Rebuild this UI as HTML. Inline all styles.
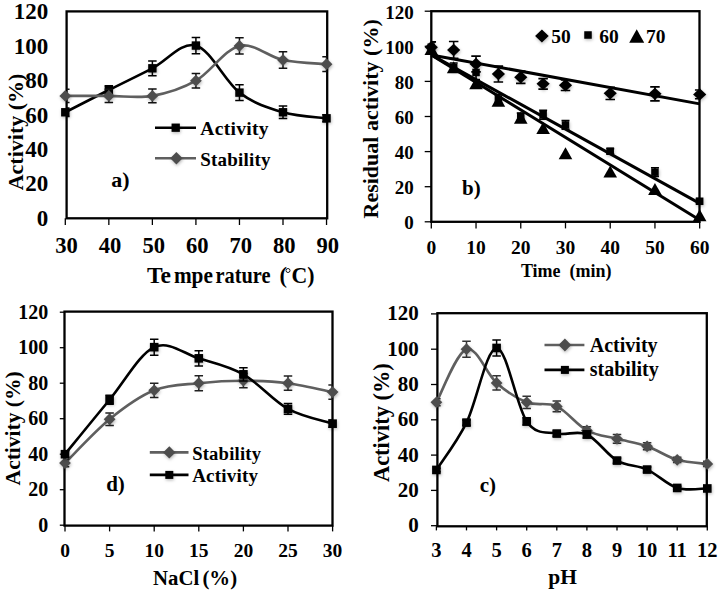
<!DOCTYPE html>
<html><head><meta charset="utf-8"><style>
html,body{margin:0;padding:0;background:#fff;width:722px;height:592px;overflow:hidden}
svg{display:block}
</style></head><body>
<svg width="722" height="592" viewBox="0 0 722 592" font-family='"Liberation Serif", serif' font-weight="bold" fill="#000">
<rect width="722" height="592" fill="#fff"/>
<defs><filter id="sh" x="-60%" y="-60%" width="220%" height="220%"><feDropShadow dx="0.6" dy="1.4" stdDeviation="1.4" flood-color="#000" flood-opacity="0.28"/></filter><clipPath id="ca"><rect x="66.6" y="0" width="260.6" height="296"/></clipPath><clipPath id="cb"><rect x="431.3" y="0" width="268.2" height="296"/></clipPath><clipPath id="cd"><rect x="64.5" y="296" width="268" height="296"/></clipPath><clipPath id="cc"><rect x="437.4" y="296" width="269.4" height="296"/></clipPath></defs>
<rect x="66.60" y="11.40" width="260.60" height="206.90" fill="none" stroke="#000" stroke-width="2.30"/>
<path d="M65.30,218.3 V225" stroke="#000" stroke-width="1.3"/>
<path d="M108.84,218.3 V225" stroke="#000" stroke-width="1.3"/>
<path d="M152.38,218.3 V225" stroke="#000" stroke-width="1.3"/>
<path d="M195.92,218.3 V225" stroke="#000" stroke-width="1.3"/>
<path d="M239.46,218.3 V225" stroke="#000" stroke-width="1.3"/>
<path d="M283.00,218.3 V225" stroke="#000" stroke-width="1.3"/>
<path d="M326.54,218.3 V225" stroke="#000" stroke-width="1.3"/>
<text x="48.3" y="225.9" font-size="23.0" text-anchor="end" >0</text>
<text x="48.3" y="191.4" font-size="23.0" text-anchor="end" >20</text>
<text x="48.3" y="156.9" font-size="23.0" text-anchor="end" >40</text>
<text x="48.3" y="122.5" font-size="23.0" text-anchor="end" >60</text>
<text x="48.3" y="88.0" font-size="23.0" text-anchor="end" >80</text>
<text x="48.3" y="53.5" font-size="23.0" text-anchor="end" >100</text>
<text x="48.3" y="19.0" font-size="23.0" text-anchor="end" >120</text>
<text x="66.6" y="253.2" font-size="22.6" text-anchor="middle" >30</text>
<text x="110.1" y="253.2" font-size="22.6" text-anchor="middle" >40</text>
<text x="153.7" y="253.2" font-size="22.6" text-anchor="middle" >50</text>
<text x="197.2" y="253.2" font-size="22.6" text-anchor="middle" >60</text>
<text x="240.8" y="253.2" font-size="22.6" text-anchor="middle" >70</text>
<text x="284.3" y="253.2" font-size="22.6" text-anchor="middle" >80</text>
<text x="327.8" y="253.2" font-size="22.6" text-anchor="middle" >90</text>
<text y="282.7" font-size="22.5"><tspan x="146.9" textLength="24" lengthAdjust="spacingAndGlyphs">Te</tspan><tspan x="173.9" textLength="39" lengthAdjust="spacingAndGlyphs">mpe</tspan><tspan x="215.5" textLength="55" lengthAdjust="spacingAndGlyphs">rature</tspan><tspan x="279.6">(</tspan><tspan x="291.5" textLength="23" lengthAdjust="spacingAndGlyphs">C)</tspan></text>
<circle cx="288" cy="270.5" r="2" fill="none" stroke="#000" stroke-width="0.9"/>
<text transform="translate(22.5,190.3) rotate(-90)" font-size="22">Activity (%)</text>
<path d="M65.30,112.27 C72.56,108.57 94.33,97.36 108.84,90.03 C123.35,82.71 137.87,75.73 152.38,68.31 C166.89,60.90 181.41,41.50 195.92,45.56 C210.43,49.61 224.95,81.50 239.46,92.62 C253.97,103.74 268.49,107.99 283.00,112.27 C297.51,116.56 319.28,117.30 326.54,118.31" stroke="#000" stroke-width="2.6" fill="none"/>
<path clip-path="url(#ca)" d="M65.30,107.96 V116.58 M61.05,107.96 H69.55 M61.05,116.58 H69.55" stroke="#000" stroke-width="1.50" fill="none"/>
<rect filter="url(#sh)" x="61.10" y="108.07" width="8.40" height="8.40" fill="#000"/>
<path clip-path="url(#ca)" d="M108.84,85.72 V94.34 M104.59,85.72 H113.09 M104.59,94.34 H113.09" stroke="#000" stroke-width="1.50" fill="none"/>
<rect filter="url(#sh)" x="104.64" y="85.83" width="8.40" height="8.40" fill="#000"/>
<path clip-path="url(#ca)" d="M152.38,60.90 V75.73 M148.13,60.90 H156.63 M148.13,75.73 H156.63" stroke="#000" stroke-width="1.50" fill="none"/>
<rect filter="url(#sh)" x="148.18" y="64.11" width="8.40" height="8.40" fill="#000"/>
<path clip-path="url(#ca)" d="M195.92,37.45 V53.66 M191.67,37.45 H200.17 M191.67,53.66 H200.17" stroke="#000" stroke-width="1.50" fill="none"/>
<rect filter="url(#sh)" x="191.72" y="41.36" width="8.40" height="8.40" fill="#000"/>
<path clip-path="url(#ca)" d="M239.46,84.69 V100.55 M235.21,84.69 H243.71 M235.21,100.55 H243.71" stroke="#000" stroke-width="1.50" fill="none"/>
<rect filter="url(#sh)" x="235.26" y="88.42" width="8.40" height="8.40" fill="#000"/>
<path clip-path="url(#ca)" d="M283.00,106.07 V118.48 M278.75,106.07 H287.25 M278.75,118.48 H287.25" stroke="#000" stroke-width="1.50" fill="none"/>
<rect filter="url(#sh)" x="278.80" y="108.07" width="8.40" height="8.40" fill="#000"/>
<path clip-path="url(#ca)" d="M326.54,114.86 V121.76 M322.29,114.86 H330.79 M322.29,121.76 H330.79" stroke="#000" stroke-width="1.50" fill="none"/>
<rect filter="url(#sh)" x="322.34" y="114.11" width="8.40" height="8.40" fill="#000"/>
<path d="M65.30,95.90 C72.56,95.90 94.33,95.90 108.84,95.90 C123.35,95.90 137.87,98.42 152.38,95.90 C166.89,93.37 181.41,89.06 195.92,80.72 C210.43,72.39 224.95,49.35 239.46,45.90 C253.97,42.45 268.49,56.99 283.00,60.04 C297.51,63.08 319.28,63.48 326.54,64.17" stroke="#5f5f5f" stroke-width="2.6" fill="none"/>
<path clip-path="url(#ca)" d="M65.30,89.17 V102.62 M61.05,89.17 H69.55 M61.05,102.62 H69.55" stroke="#111" stroke-width="1.50" fill="none"/>
<path filter="url(#sh)" d="M65.30,90.00 L71.20,95.90 L65.30,101.80 L59.40,95.90 Z" fill="#4e4e4e"/>
<path clip-path="url(#ca)" d="M108.84,89.17 V102.62 M104.59,89.17 H113.09 M104.59,102.62 H113.09" stroke="#111" stroke-width="1.50" fill="none"/>
<path filter="url(#sh)" d="M108.84,90.00 L114.74,95.90 L108.84,101.80 L102.94,95.90 Z" fill="#4e4e4e"/>
<path clip-path="url(#ca)" d="M152.38,89.00 V102.79 M148.13,89.00 H156.63 M148.13,102.79 H156.63" stroke="#111" stroke-width="1.50" fill="none"/>
<path filter="url(#sh)" d="M152.38,90.00 L158.28,95.90 L152.38,101.80 L146.48,95.90 Z" fill="#4e4e4e"/>
<path clip-path="url(#ca)" d="M195.92,73.48 V87.97 M191.67,73.48 H200.17 M191.67,87.97 H200.17" stroke="#111" stroke-width="1.50" fill="none"/>
<path filter="url(#sh)" d="M195.92,74.82 L201.82,80.72 L195.92,86.62 L190.02,80.72 Z" fill="#4e4e4e"/>
<path clip-path="url(#ca)" d="M239.46,37.80 V54.00 M235.21,37.80 H243.71 M235.21,54.00 H243.71" stroke="#111" stroke-width="1.50" fill="none"/>
<path filter="url(#sh)" d="M239.46,40.00 L245.36,45.90 L239.46,51.80 L233.56,45.90 Z" fill="#4e4e4e"/>
<path clip-path="url(#ca)" d="M283.00,51.76 V68.31 M278.75,51.76 H287.25 M278.75,68.31 H287.25" stroke="#111" stroke-width="1.50" fill="none"/>
<path filter="url(#sh)" d="M283.00,54.14 L288.90,60.04 L283.00,65.94 L277.10,60.04 Z" fill="#4e4e4e"/>
<path clip-path="url(#ca)" d="M326.54,56.76 V71.59 M322.29,56.76 H330.79 M322.29,71.59 H330.79" stroke="#111" stroke-width="1.50" fill="none"/>
<path filter="url(#sh)" d="M326.54,58.27 L332.44,64.17 L326.54,70.07 L320.64,64.17 Z" fill="#4e4e4e"/>
<path d="M155,127.7 H196" stroke="#000" stroke-width="2.6"/>
<rect filter="url(#sh)" x="171.55" y="123.55" width="8.30" height="8.30" fill="#000"/>
<text x="200.3" y="135.3" font-size="19.5" text-anchor="start" letter-spacing="0.3">Activity</text>
<path d="M155,158.2 H196" stroke="#5f5f5f" stroke-width="2.6"/>
<path filter="url(#sh)" d="M176.40,152.00 L182.60,158.20 L176.40,164.40 L170.20,158.20 Z" fill="#4e4e4e"/>
<text x="200.3" y="166.1" font-size="19.0" text-anchor="start" letter-spacing="0.2">Stability</text>
<text x="111.2" y="186.6" font-size="22.0" text-anchor="start" >a)</text>
<rect x="431.30" y="11.20" width="268.20" height="210.60" fill="none" stroke="#000" stroke-width="2.30"/>
<path d="M424.7,221.80 H431.3" stroke="#000" stroke-width="1.3"/>
<text x="413.7" y="229.3" font-size="19.0" text-anchor="end" >0</text>
<path d="M424.7,186.70 H431.3" stroke="#000" stroke-width="1.3"/>
<text x="413.7" y="194.2" font-size="19.0" text-anchor="end" >20</text>
<path d="M424.7,151.60 H431.3" stroke="#000" stroke-width="1.3"/>
<text x="413.7" y="159.1" font-size="19.0" text-anchor="end" >40</text>
<path d="M424.7,116.50 H431.3" stroke="#000" stroke-width="1.3"/>
<text x="413.7" y="124.0" font-size="19.0" text-anchor="end" >60</text>
<path d="M424.7,81.40 H431.3" stroke="#000" stroke-width="1.3"/>
<text x="413.7" y="88.9" font-size="19.0" text-anchor="end" >80</text>
<path d="M424.7,46.30 H431.3" stroke="#000" stroke-width="1.3"/>
<text x="413.7" y="53.8" font-size="19.0" text-anchor="end" >100</text>
<path d="M424.7,11.20 H431.3" stroke="#000" stroke-width="1.3"/>
<text x="413.7" y="18.7" font-size="19.0" text-anchor="end" >120</text>
<path d="M431.30,221.8 V228.4" stroke="#000" stroke-width="1.3"/>
<text x="431.3" y="253.9" font-size="19.5" text-anchor="middle" >0</text>
<path d="M476.03,221.8 V228.4" stroke="#000" stroke-width="1.3"/>
<text x="476.0" y="253.9" font-size="19.5" text-anchor="middle" >10</text>
<path d="M520.76,221.8 V228.4" stroke="#000" stroke-width="1.3"/>
<text x="520.8" y="253.9" font-size="19.5" text-anchor="middle" >20</text>
<path d="M565.49,221.8 V228.4" stroke="#000" stroke-width="1.3"/>
<text x="565.5" y="253.9" font-size="19.5" text-anchor="middle" >30</text>
<path d="M610.22,221.8 V228.4" stroke="#000" stroke-width="1.3"/>
<text x="610.2" y="253.9" font-size="19.5" text-anchor="middle" >40</text>
<path d="M654.95,221.8 V228.4" stroke="#000" stroke-width="1.3"/>
<text x="655.0" y="253.9" font-size="19.5" text-anchor="middle" >50</text>
<path d="M699.68,221.8 V228.4" stroke="#000" stroke-width="1.3"/>
<text x="699.7" y="253.9" font-size="19.5" text-anchor="middle" >60</text>
<text x="520.9" y="277.3" font-size="18.0" text-anchor="start" >Time&#160;&#160;(min)</text>
<text transform="translate(377.8,218.5) rotate(-90)" font-size="22">Residual activity (%)</text>
<path d="M431.30,54.90 L699.68,103.86" stroke="#000" stroke-width="3"/>
<path d="M431.30,54.90 L699.68,203.37" stroke="#000" stroke-width="3"/>
<path d="M431.30,54.90 L699.68,220.05" stroke="#000" stroke-width="3"/>
<path clip-path="url(#cb)" d="M431.30,41.91 V52.44 M426.55,41.91 H436.05 M426.55,52.44 H436.05" stroke="#000" stroke-width="1.60" fill="none"/>
<path filter="url(#sh)" d="M431.30,40.98 L437.90,47.18 L431.30,53.38 L424.70,47.18 Z" fill="#000"/>
<path clip-path="url(#cb)" d="M453.67,41.56 V58.41 M448.92,41.56 H458.42 M448.92,58.41 H458.42" stroke="#000" stroke-width="1.60" fill="none"/>
<path filter="url(#sh)" d="M453.67,43.79 L460.27,49.99 L453.67,56.19 L447.06,49.99 Z" fill="#000"/>
<path clip-path="url(#cb)" d="M476.03,56.13 V71.92 M471.28,56.13 H480.78 M471.28,71.92 H480.78" stroke="#000" stroke-width="1.60" fill="none"/>
<path filter="url(#sh)" d="M476.03,57.83 L482.63,64.03 L476.03,70.23 L469.43,64.03 Z" fill="#000"/>
<path clip-path="url(#cb)" d="M498.39,66.13 V81.93 M493.64,66.13 H503.14 M493.64,81.93 H503.14" stroke="#000" stroke-width="1.60" fill="none"/>
<path filter="url(#sh)" d="M498.39,67.83 L505.00,74.03 L498.39,80.23 L491.79,74.03 Z" fill="#000"/>
<path clip-path="url(#cb)" d="M520.76,71.05 V83.33 M516.01,71.05 H525.51 M516.01,83.33 H525.51" stroke="#000" stroke-width="1.60" fill="none"/>
<path filter="url(#sh)" d="M520.76,70.99 L527.36,77.19 L520.76,83.39 L514.16,77.19 Z" fill="#000"/>
<path clip-path="url(#cb)" d="M543.12,78.59 V89.12 M538.38,78.59 H547.88 M538.38,89.12 H547.88" stroke="#000" stroke-width="1.60" fill="none"/>
<path filter="url(#sh)" d="M543.12,77.66 L549.73,83.86 L543.12,90.06 L536.52,83.86 Z" fill="#000"/>
<path clip-path="url(#cb)" d="M565.49,80.00 V90.53 M560.74,80.00 H570.24 M560.74,90.53 H570.24" stroke="#000" stroke-width="1.60" fill="none"/>
<path filter="url(#sh)" d="M565.49,79.06 L572.09,85.26 L565.49,91.46 L558.89,85.26 Z" fill="#000"/>
<path clip-path="url(#cb)" d="M610.22,87.19 V99.48 M605.47,87.19 H614.97 M605.47,99.48 H614.97" stroke="#000" stroke-width="1.60" fill="none"/>
<path filter="url(#sh)" d="M610.22,87.13 L616.82,93.33 L610.22,99.53 L603.62,93.33 Z" fill="#000"/>
<path clip-path="url(#cb)" d="M654.95,86.84 V100.88 M650.20,86.84 H659.70 M650.20,100.88 H659.70" stroke="#000" stroke-width="1.60" fill="none"/>
<path filter="url(#sh)" d="M654.95,87.66 L661.55,93.86 L654.95,100.06 L648.35,93.86 Z" fill="#000"/>
<path clip-path="url(#cb)" d="M699.68,90.00 V98.77 M694.93,90.00 H704.43 M694.93,98.77 H704.43" stroke="#000" stroke-width="1.60" fill="none"/>
<path filter="url(#sh)" d="M699.68,88.19 L706.28,94.39 L699.68,100.59 L693.08,94.39 Z" fill="#000"/>
<path clip-path="url(#cb)" d="M431.30,41.91 V52.44 M427.30,41.91 H435.30 M427.30,52.44 H435.30" stroke="#000" stroke-width="1.60" fill="none"/>
<rect filter="url(#sh)" x="427.55" y="43.43" width="7.50" height="7.50" fill="#000"/>
<path clip-path="url(#cb)" d="M453.67,62.97 V71.75 M449.67,62.97 H457.67 M449.67,71.75 H457.67" stroke="#000" stroke-width="1.60" fill="none"/>
<rect filter="url(#sh)" x="449.92" y="63.61" width="7.50" height="7.50" fill="#000"/>
<path clip-path="url(#cb)" d="M476.03,65.43 V79.47 M472.03,65.43 H480.03 M472.03,79.47 H480.03" stroke="#000" stroke-width="1.60" fill="none"/>
<rect filter="url(#sh)" x="472.28" y="68.70" width="7.50" height="7.50" fill="#000"/>
<path clip-path="url(#cb)" d="M498.39,94.56 V103.34 M494.39,94.56 H502.39 M494.39,103.34 H502.39" stroke="#000" stroke-width="1.60" fill="none"/>
<rect filter="url(#sh)" x="494.64" y="95.20" width="7.50" height="7.50" fill="#000"/>
<path clip-path="url(#cb)" d="M520.76,112.99 V120.01 M516.76,112.99 H524.76 M516.76,120.01 H524.76" stroke="#000" stroke-width="1.60" fill="none"/>
<rect filter="url(#sh)" x="517.01" y="112.75" width="7.50" height="7.50" fill="#000"/>
<path clip-path="url(#cb)" d="M543.12,110.36 V119.13 M539.12,110.36 H547.12 M539.12,119.13 H547.12" stroke="#000" stroke-width="1.60" fill="none"/>
<rect filter="url(#sh)" x="539.38" y="111.00" width="7.50" height="7.50" fill="#000"/>
<path clip-path="url(#cb)" d="M565.49,120.54 V129.31 M561.49,120.54 H569.49 M561.49,129.31 H569.49" stroke="#000" stroke-width="1.60" fill="none"/>
<rect filter="url(#sh)" x="561.74" y="121.17" width="7.50" height="7.50" fill="#000"/>
<path clip-path="url(#cb)" d="M610.22,148.62 V153.88 M606.22,148.62 H614.22 M606.22,153.88 H614.22" stroke="#000" stroke-width="1.60" fill="none"/>
<rect filter="url(#sh)" x="606.47" y="147.50" width="7.50" height="7.50" fill="#000"/>
<path clip-path="url(#cb)" d="M654.95,167.75 V176.52 M650.95,167.75 H658.95 M650.95,176.52 H658.95" stroke="#000" stroke-width="1.60" fill="none"/>
<rect filter="url(#sh)" x="651.20" y="168.38" width="7.50" height="7.50" fill="#000"/>
<path clip-path="url(#cb)" d="M699.68,198.63 V203.90 M695.68,198.63 H703.68 M695.68,203.90 H703.68" stroke="#000" stroke-width="1.60" fill="none"/>
<rect filter="url(#sh)" x="695.93" y="197.52" width="7.50" height="7.50" fill="#000"/>
<path d="M431.30,42.93 L438.10,54.93 L424.50,54.93 Z" fill="#000"/>
<path d="M453.67,61.36 L460.47,73.36 L446.87,73.36 Z" fill="#000"/>
<path d="M476.03,77.16 L482.83,89.16 L469.23,89.16 Z" fill="#000"/>
<path d="M498.39,94.71 L505.19,106.71 L491.59,106.71 Z" fill="#000"/>
<path d="M520.76,111.73 L527.56,123.73 L513.96,123.73 Z" fill="#000"/>
<path d="M543.12,121.91 L549.92,133.91 L536.33,133.91 Z" fill="#000"/>
<path d="M565.49,147.18 L572.29,159.18 L558.69,159.18 Z" fill="#000"/>
<path d="M610.22,165.43 L617.02,177.43 L603.42,177.43 Z" fill="#000"/>
<path d="M654.95,182.98 L661.75,194.98 L648.15,194.98 Z" fill="#000"/>
<path d="M699.68,209.31 L706.48,221.31 L692.88,221.31 Z" fill="#000"/>
<path filter="url(#sh)" d="M541.90,29.60 L548.70,36.00 L541.90,42.40 L535.10,36.00 Z" fill="#000"/>
<text x="551.2" y="43.2" font-size="19.5" text-anchor="start" >50</text>
<rect filter="url(#sh)" x="584.25" y="31.25" width="7.50" height="7.50" fill="#000"/>
<text x="599.3" y="43.2" font-size="19.5" text-anchor="start" >60</text>
<path d="M636.70,29.20 L644.20,42.80 L629.20,42.80 Z" fill="#000"/>
<text x="645.9" y="43.2" font-size="19.5" text-anchor="start" >70</text>
<text x="462.0" y="195.1" font-size="21.0" text-anchor="start" >b)</text>
<rect x="64.50" y="311.60" width="268.00" height="214.00" fill="none" stroke="#000" stroke-width="2.30"/>
<path d="M59.8,525.20 H64.5" stroke="#000" stroke-width="1.3"/>
<text x="48.3" y="531.5" font-size="20.0" text-anchor="end" >0</text>
<path d="M59.8,489.70 H64.5" stroke="#000" stroke-width="1.3"/>
<text x="48.3" y="496.0" font-size="20.0" text-anchor="end" >20</text>
<path d="M59.8,454.20 H64.5" stroke="#000" stroke-width="1.3"/>
<text x="48.3" y="460.5" font-size="20.0" text-anchor="end" >40</text>
<path d="M59.8,418.70 H64.5" stroke="#000" stroke-width="1.3"/>
<text x="48.3" y="425.0" font-size="20.0" text-anchor="end" >60</text>
<path d="M59.8,383.20 H64.5" stroke="#000" stroke-width="1.3"/>
<text x="48.3" y="389.5" font-size="20.0" text-anchor="end" >80</text>
<path d="M59.8,347.70 H64.5" stroke="#000" stroke-width="1.3"/>
<text x="48.3" y="354.0" font-size="20.0" text-anchor="end" >100</text>
<path d="M59.8,312.20 H64.5" stroke="#000" stroke-width="1.3"/>
<text x="48.3" y="318.5" font-size="20.0" text-anchor="end" >120</text>
<path d="M65.00,525.6 V531.4" stroke="#000" stroke-width="1.3"/>
<text x="65.0" y="557.4" font-size="19.5" text-anchor="middle" >0</text>
<path d="M109.60,525.6 V531.4" stroke="#000" stroke-width="1.3"/>
<text x="109.6" y="557.4" font-size="19.5" text-anchor="middle" >5</text>
<path d="M154.20,525.6 V531.4" stroke="#000" stroke-width="1.3"/>
<text x="154.2" y="557.4" font-size="19.5" text-anchor="middle" >10</text>
<path d="M198.80,525.6 V531.4" stroke="#000" stroke-width="1.3"/>
<text x="198.8" y="557.4" font-size="19.5" text-anchor="middle" >15</text>
<path d="M243.40,525.6 V531.4" stroke="#000" stroke-width="1.3"/>
<text x="243.4" y="557.4" font-size="19.5" text-anchor="middle" >20</text>
<path d="M288.00,525.6 V531.4" stroke="#000" stroke-width="1.3"/>
<text x="288.0" y="557.4" font-size="19.5" text-anchor="middle" >25</text>
<path d="M332.60,525.6 V531.4" stroke="#000" stroke-width="1.3"/>
<text x="332.6" y="557.4" font-size="19.5" text-anchor="middle" >30</text>
<text x="153.0" y="584.9" font-size="20.8" text-anchor="start" >NaCl<tspan dx="-2">&#160;(%)</tspan></text>
<text transform="translate(20.3,485.4) rotate(-90)" font-size="21.5">Activity (%)</text>
<path d="M65.00,463.08 C72.43,455.77 94.73,431.36 109.60,419.23 C124.47,407.10 139.33,396.31 154.20,390.30 C169.07,384.29 183.93,384.80 198.80,383.20 C213.67,381.60 228.53,380.72 243.40,380.72 C258.27,380.72 273.13,381.31 288.00,383.20 C302.87,385.09 325.17,390.60 332.60,392.08" stroke="#5f5f5f" stroke-width="2.6" fill="none"/>
<path clip-path="url(#cd)" d="M65.00,459.53 V466.63 M60.75,459.53 H69.25 M60.75,466.63 H69.25" stroke="#222" stroke-width="1.50" fill="none"/>
<path filter="url(#sh)" d="M65.00,457.18 L70.90,463.08 L65.00,468.98 L59.10,463.08 Z" fill="#4e4e4e"/>
<path clip-path="url(#cd)" d="M109.60,413.02 V425.45 M105.35,413.02 H113.85 M105.35,425.45 H113.85" stroke="#222" stroke-width="1.50" fill="none"/>
<path filter="url(#sh)" d="M109.60,413.33 L115.50,419.23 L109.60,425.13 L103.70,419.23 Z" fill="#4e4e4e"/>
<path clip-path="url(#cd)" d="M154.20,383.20 V397.40 M149.95,383.20 H158.45 M149.95,397.40 H158.45" stroke="#222" stroke-width="1.50" fill="none"/>
<path filter="url(#sh)" d="M154.20,384.40 L160.10,390.30 L154.20,396.20 L148.30,390.30 Z" fill="#4e4e4e"/>
<path clip-path="url(#cd)" d="M198.80,375.75 V390.66 M194.55,375.75 H203.05 M194.55,390.66 H203.05" stroke="#222" stroke-width="1.50" fill="none"/>
<path filter="url(#sh)" d="M198.80,377.30 L204.70,383.20 L198.80,389.10 L192.90,383.20 Z" fill="#4e4e4e"/>
<path clip-path="url(#cd)" d="M243.40,373.62 V387.82 M239.15,373.62 H247.65 M239.15,387.82 H247.65" stroke="#222" stroke-width="1.50" fill="none"/>
<path filter="url(#sh)" d="M243.40,374.82 L249.30,380.72 L243.40,386.62 L237.50,380.72 Z" fill="#4e4e4e"/>
<path clip-path="url(#cd)" d="M288.00,376.10 V390.30 M283.75,376.10 H292.25 M283.75,390.30 H292.25" stroke="#222" stroke-width="1.50" fill="none"/>
<path filter="url(#sh)" d="M288.00,377.30 L293.90,383.20 L288.00,389.10 L282.10,383.20 Z" fill="#4e4e4e"/>
<path clip-path="url(#cd)" d="M332.60,384.98 V399.18 M328.35,384.98 H336.85 M328.35,399.18 H336.85" stroke="#222" stroke-width="1.50" fill="none"/>
<path filter="url(#sh)" d="M332.60,386.18 L338.50,392.08 L332.60,397.98 L326.70,392.08 Z" fill="#4e4e4e"/>
<path d="M65.00,454.20 C72.43,445.12 94.73,417.55 109.60,399.71 C124.47,381.87 139.33,354.06 154.20,347.17 C169.07,340.27 183.93,353.82 198.80,358.35 C213.67,362.88 228.53,365.89 243.40,374.33 C258.27,382.76 273.13,400.71 288.00,408.94 C302.87,417.16 325.17,421.21 332.60,423.67" stroke="#000" stroke-width="2.6" fill="none"/>
<path clip-path="url(#cd)" d="M65.00,451.54 V456.86 M60.75,451.54 H69.25 M60.75,456.86 H69.25" stroke="#000" stroke-width="1.50" fill="none"/>
<rect filter="url(#sh)" x="60.70" y="449.90" width="8.60" height="8.60" fill="#000"/>
<path clip-path="url(#cd)" d="M109.60,395.27 V404.15 M105.35,395.27 H113.85 M105.35,404.15 H113.85" stroke="#000" stroke-width="1.50" fill="none"/>
<rect filter="url(#sh)" x="105.30" y="395.41" width="8.60" height="8.60" fill="#000"/>
<path clip-path="url(#cd)" d="M154.20,339.18 V355.16 M149.95,339.18 H158.45 M149.95,355.16 H158.45" stroke="#000" stroke-width="1.50" fill="none"/>
<rect filter="url(#sh)" x="149.90" y="342.87" width="8.60" height="8.60" fill="#000"/>
<path clip-path="url(#cd)" d="M198.80,350.72 V365.98 M194.55,350.72 H203.05 M194.55,365.98 H203.05" stroke="#000" stroke-width="1.50" fill="none"/>
<rect filter="url(#sh)" x="194.50" y="354.05" width="8.60" height="8.60" fill="#000"/>
<path clip-path="url(#cd)" d="M243.40,367.76 V380.89 M239.15,367.76 H247.65 M239.15,380.89 H247.65" stroke="#000" stroke-width="1.50" fill="none"/>
<rect filter="url(#sh)" x="239.10" y="370.03" width="8.60" height="8.60" fill="#000"/>
<path clip-path="url(#cd)" d="M288.00,403.61 V414.26 M283.75,403.61 H292.25 M283.75,414.26 H292.25" stroke="#000" stroke-width="1.50" fill="none"/>
<rect filter="url(#sh)" x="283.70" y="404.64" width="8.60" height="8.60" fill="#000"/>
<path clip-path="url(#cd)" d="M332.60,420.12 V427.22 M328.35,420.12 H336.85 M328.35,427.22 H336.85" stroke="#000" stroke-width="1.50" fill="none"/>
<rect filter="url(#sh)" x="328.30" y="419.37" width="8.60" height="8.60" fill="#000"/>
<path d="M149.8,452.4 H188.5" stroke="#5f5f5f" stroke-width="2.6"/>
<path filter="url(#sh)" d="M169.30,446.20 L175.50,452.40 L169.30,458.60 L163.10,452.40 Z" fill="#4e4e4e"/>
<text x="192.2" y="459.9" font-size="18.6" text-anchor="start" letter-spacing="0.2">Stability</text>
<path d="M149.8,474.9 H188.5" stroke="#000" stroke-width="2.6"/>
<rect filter="url(#sh)" x="165.30" y="470.90" width="8.00" height="8.00" fill="#000"/>
<text x="192.2" y="481.9" font-size="19.0" text-anchor="start" letter-spacing="0.2">Activity</text>
<text x="106.2" y="491.1" font-size="21.0" text-anchor="start" >d)</text>
<rect x="437.40" y="313.20" width="269.40" height="213.10" fill="none" stroke="#000" stroke-width="2.30"/>
<path d="M431,525.70 H437.4" stroke="#000" stroke-width="1.3"/>
<text x="418.8" y="532.2" font-size="21.0" text-anchor="end" >0</text>
<path d="M431,490.40 H437.4" stroke="#000" stroke-width="1.3"/>
<text x="418.8" y="496.9" font-size="21.0" text-anchor="end" >20</text>
<path d="M431,455.10 H437.4" stroke="#000" stroke-width="1.3"/>
<text x="418.8" y="461.6" font-size="21.0" text-anchor="end" >40</text>
<path d="M431,419.80 H437.4" stroke="#000" stroke-width="1.3"/>
<text x="418.8" y="426.3" font-size="21.0" text-anchor="end" >60</text>
<path d="M431,384.50 H437.4" stroke="#000" stroke-width="1.3"/>
<text x="418.8" y="391.0" font-size="21.0" text-anchor="end" >80</text>
<path d="M431,349.20 H437.4" stroke="#000" stroke-width="1.3"/>
<text x="418.8" y="355.7" font-size="21.0" text-anchor="end" >100</text>
<path d="M431,313.90 H437.4" stroke="#000" stroke-width="1.3"/>
<text x="418.8" y="320.4" font-size="21.0" text-anchor="end" >120</text>
<path d="M436.40,526.3 V530.4" stroke="#000" stroke-width="1.3"/>
<text x="436.4" y="556.8" font-size="20.5" text-anchor="middle" >3</text>
<path d="M466.50,526.3 V530.4" stroke="#000" stroke-width="1.3"/>
<text x="466.5" y="556.8" font-size="20.5" text-anchor="middle" >4</text>
<path d="M496.60,526.3 V530.4" stroke="#000" stroke-width="1.3"/>
<text x="496.6" y="556.8" font-size="20.5" text-anchor="middle" >5</text>
<path d="M526.70,526.3 V530.4" stroke="#000" stroke-width="1.3"/>
<text x="526.7" y="556.8" font-size="20.5" text-anchor="middle" >6</text>
<path d="M556.80,526.3 V530.4" stroke="#000" stroke-width="1.3"/>
<text x="556.8" y="556.8" font-size="20.5" text-anchor="middle" >7</text>
<path d="M586.90,526.3 V530.4" stroke="#000" stroke-width="1.3"/>
<text x="586.9" y="556.8" font-size="20.5" text-anchor="middle" >8</text>
<path d="M617.00,526.3 V530.4" stroke="#000" stroke-width="1.3"/>
<text x="617.0" y="556.8" font-size="20.5" text-anchor="middle" >9</text>
<path d="M647.10,526.3 V530.4" stroke="#000" stroke-width="1.3"/>
<text x="647.1" y="556.8" font-size="20.5" text-anchor="middle" >10</text>
<path d="M677.20,526.3 V530.4" stroke="#000" stroke-width="1.3"/>
<text x="677.2" y="556.8" font-size="20.5" text-anchor="middle" >11</text>
<path d="M707.30,526.3 V530.4" stroke="#000" stroke-width="1.3"/>
<text x="707.3" y="556.8" font-size="20.5" text-anchor="middle" >12</text>
<text x="548.3" y="584.0" font-size="21.5" text-anchor="start" >pH</text>
<text transform="translate(388.6,482) rotate(-90)" font-size="22.4">Activity (%)</text>
<path d="M436.40,402.33 C441.42,393.47 456.47,352.44 466.50,349.20 C476.53,345.96 486.57,374.06 496.60,382.91 C506.63,391.77 516.67,398.41 526.70,402.33 C536.73,406.24 546.77,401.71 556.80,406.39 C566.83,411.06 576.87,424.98 586.90,430.39 C596.93,435.80 606.97,436.21 617.00,438.86 C627.03,441.51 637.07,442.77 647.10,446.28 C657.13,449.78 667.17,456.92 677.20,459.87 C687.23,462.81 702.28,463.25 707.30,463.93" stroke="#5f5f5f" stroke-width="2.6" fill="none"/>
<path clip-path="url(#cc)" d="M436.40,398.80 V405.86 M432.15,398.80 H440.65 M432.15,405.86 H440.65" stroke="#333" stroke-width="1.50" fill="none"/>
<path filter="url(#sh)" d="M436.40,396.43 L442.30,402.33 L436.40,408.23 L430.50,402.33 Z" fill="#4e4e4e"/>
<path clip-path="url(#cc)" d="M466.50,341.26 V357.14 M462.25,341.26 H470.75 M462.25,357.14 H470.75" stroke="#333" stroke-width="1.50" fill="none"/>
<path filter="url(#sh)" d="M466.50,343.30 L472.40,349.20 L466.50,355.10 L460.60,349.20 Z" fill="#4e4e4e"/>
<path clip-path="url(#cc)" d="M496.60,375.85 V389.97 M492.35,375.85 H500.85 M492.35,389.97 H500.85" stroke="#333" stroke-width="1.50" fill="none"/>
<path filter="url(#sh)" d="M496.60,377.01 L502.50,382.91 L496.60,388.81 L490.70,382.91 Z" fill="#4e4e4e"/>
<path clip-path="url(#cc)" d="M526.70,396.15 V408.50 M522.45,396.15 H530.95 M522.45,408.50 H530.95" stroke="#333" stroke-width="1.50" fill="none"/>
<path filter="url(#sh)" d="M526.70,396.43 L532.60,402.33 L526.70,408.23 L520.80,402.33 Z" fill="#4e4e4e"/>
<path clip-path="url(#cc)" d="M556.80,401.09 V411.68 M552.55,401.09 H561.05 M552.55,411.68 H561.05" stroke="#333" stroke-width="1.50" fill="none"/>
<path filter="url(#sh)" d="M556.80,400.49 L562.70,406.39 L556.80,412.29 L550.90,406.39 Z" fill="#4e4e4e"/>
<path clip-path="url(#cc)" d="M586.90,426.86 V433.92 M582.65,426.86 H591.15 M582.65,433.92 H591.15" stroke="#333" stroke-width="1.50" fill="none"/>
<path filter="url(#sh)" d="M586.90,424.49 L592.80,430.39 L586.90,436.29 L581.00,430.39 Z" fill="#4e4e4e"/>
<path clip-path="url(#cc)" d="M617.00,434.45 V443.27 M612.75,434.45 H621.25 M612.75,443.27 H621.25" stroke="#333" stroke-width="1.50" fill="none"/>
<path filter="url(#sh)" d="M617.00,432.96 L622.90,438.86 L617.00,444.76 L611.10,438.86 Z" fill="#4e4e4e"/>
<path clip-path="url(#cc)" d="M647.10,442.75 V449.81 M642.85,442.75 H651.35 M642.85,449.81 H651.35" stroke="#333" stroke-width="1.50" fill="none"/>
<path filter="url(#sh)" d="M647.10,440.38 L653.00,446.28 L647.10,452.18 L641.20,446.28 Z" fill="#4e4e4e"/>
<path clip-path="url(#cc)" d="M677.20,457.22 V462.51 M672.95,457.22 H681.45 M672.95,462.51 H681.45" stroke="#333" stroke-width="1.50" fill="none"/>
<path filter="url(#sh)" d="M677.20,453.97 L683.10,459.87 L677.20,465.77 L671.30,459.87 Z" fill="#4e4e4e"/>
<path clip-path="url(#cc)" d="M707.30,461.28 V466.57 M703.05,461.28 H711.55 M703.05,466.57 H711.55" stroke="#333" stroke-width="1.50" fill="none"/>
<path filter="url(#sh)" d="M707.30,458.03 L713.20,463.93 L707.30,469.83 L701.40,463.93 Z" fill="#4e4e4e"/>
<path d="M436.40,469.93 C441.42,462.04 456.47,442.95 466.50,422.62 C476.53,402.30 486.57,348.17 496.60,347.96 C506.63,347.76 516.67,407.12 526.70,421.39 C536.73,435.66 546.77,431.39 556.80,433.57 C566.83,435.74 576.87,429.95 586.90,434.45 C596.93,438.95 606.97,454.72 617.00,460.57 C627.03,466.43 637.07,465.01 647.10,469.57 C657.13,474.13 667.17,484.78 677.20,487.93 C687.23,491.08 702.28,488.37 707.30,488.46" stroke="#000" stroke-width="2.6" fill="none"/>
<path clip-path="url(#cc)" d="M436.40,468.16 V471.69 M432.15,468.16 H440.65 M432.15,471.69 H440.65" stroke="#000" stroke-width="1.50" fill="none"/>
<rect filter="url(#sh)" x="432.10" y="465.63" width="8.60" height="8.60" fill="#000"/>
<path clip-path="url(#cc)" d="M466.50,419.98 V425.27 M462.25,419.98 H470.75 M462.25,425.27 H470.75" stroke="#000" stroke-width="1.50" fill="none"/>
<rect filter="url(#sh)" x="462.20" y="418.32" width="8.60" height="8.60" fill="#000"/>
<path clip-path="url(#cc)" d="M496.60,340.02 V355.91 M492.35,340.02 H500.85 M492.35,355.91 H500.85" stroke="#000" stroke-width="1.50" fill="none"/>
<rect filter="url(#sh)" x="492.30" y="343.66" width="8.60" height="8.60" fill="#000"/>
<path clip-path="url(#cc)" d="M526.70,417.86 V424.92 M522.45,417.86 H530.95 M522.45,424.92 H530.95" stroke="#000" stroke-width="1.50" fill="none"/>
<rect filter="url(#sh)" x="522.40" y="417.09" width="8.60" height="8.60" fill="#000"/>
<path clip-path="url(#cc)" d="M556.80,430.92 V436.21 M552.55,430.92 H561.05 M552.55,436.21 H561.05" stroke="#000" stroke-width="1.50" fill="none"/>
<rect filter="url(#sh)" x="552.50" y="429.27" width="8.60" height="8.60" fill="#000"/>
<path clip-path="url(#cc)" d="M586.90,430.92 V437.98 M582.65,430.92 H591.15 M582.65,437.98 H591.15" stroke="#000" stroke-width="1.50" fill="none"/>
<rect filter="url(#sh)" x="582.60" y="430.15" width="8.60" height="8.60" fill="#000"/>
<path clip-path="url(#cc)" d="M617.00,457.92 V463.22 M612.75,457.92 H621.25 M612.75,463.22 H621.25" stroke="#000" stroke-width="1.50" fill="none"/>
<rect filter="url(#sh)" x="612.70" y="456.27" width="8.60" height="8.60" fill="#000"/>
<path clip-path="url(#cc)" d="M647.10,466.93 V472.22 M642.85,466.93 H651.35 M642.85,472.22 H651.35" stroke="#000" stroke-width="1.50" fill="none"/>
<rect filter="url(#sh)" x="642.80" y="465.27" width="8.60" height="8.60" fill="#000"/>
<path clip-path="url(#cc)" d="M677.20,486.16 V489.69 M672.95,486.16 H681.45 M672.95,489.69 H681.45" stroke="#000" stroke-width="1.50" fill="none"/>
<rect filter="url(#sh)" x="672.90" y="483.63" width="8.60" height="8.60" fill="#000"/>
<path clip-path="url(#cc)" d="M707.30,486.69 V490.22 M703.05,486.69 H711.55 M703.05,490.22 H711.55" stroke="#000" stroke-width="1.50" fill="none"/>
<rect filter="url(#sh)" x="703.00" y="484.16" width="8.60" height="8.60" fill="#000"/>
<path d="M544.5,345 H584.4" stroke="#5f5f5f" stroke-width="2.6"/>
<path filter="url(#sh)" d="M564.90,338.60 L571.30,345.00 L564.90,351.40 L558.50,345.00 Z" fill="#4e4e4e"/>
<text x="589.8" y="352.2" font-size="20.0" text-anchor="start" letter-spacing="0">Activity</text>
<path d="M544.5,369.9 H584.4" stroke="#000" stroke-width="2.6"/>
<rect filter="url(#sh)" x="560.90" y="365.90" width="8.00" height="8.00" fill="#000"/>
<text x="589.8" y="375.9" font-size="20.0" text-anchor="start" letter-spacing="0">stability</text>
<text x="479.7" y="492.1" font-size="21.0" text-anchor="start" >c)</text>
</svg>
</body></html>
